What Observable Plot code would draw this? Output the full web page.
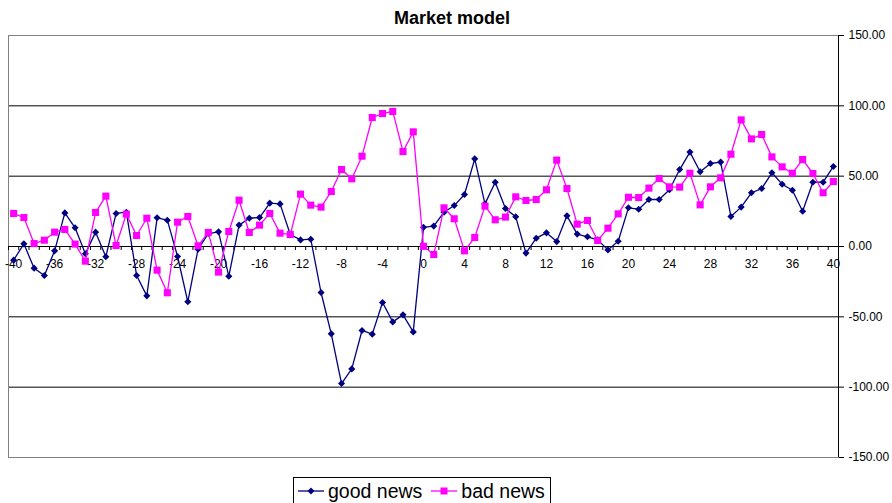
<!DOCTYPE html>
<html><head><meta charset="utf-8">
<script src="https://cdn.jsdelivr.net/npm/d3@7"></script>
<script src="https://cdn.jsdelivr.net/npm/@observablehq/plot@0.6"></script>
<style>
body{margin:0;background:#fff;font-family:"Liberation Sans",Arial,sans-serif;}
#wrap{position:relative;width:892px;height:503px;overflow:hidden;background:#fff;}
#title{position:absolute;left:6px;top:8px;width:892px;text-align:center;font-weight:bold;font-size:18px;line-height:20px;color:#000;}
#chart{position:absolute;left:0;top:0;}
#legend{position:absolute;left:293px;top:477px;width:258px;height:32px;border:1px solid #000;box-sizing:border-box;display:flex;align-items:center;font-size:19.5px;padding:0 0 4px 4px;color:#000;background:#fff;}
#legend svg{display:block;}
#legend span{white-space:nowrap;}
</style></head>
<body>
<div id="wrap">
  <div id="chart"></div>
  <div id="title">Market model</div>
  <div id="legend"></div>
</div>
<script>
const lags = [-40,-39,-38,-37,-36,-35,-34,-33,-32,-31,-30,-29,-28,-27,-26,-25,-24,-23,-22,-21,
  -20,-19,-18,-17,-16,-15,-14,-13,-12,-11,-10,-9,-8,-7,-6,-5,-4,-3,-2,-1,
  0,1,2,3,4,5,6,7,8,9,10,11,12,13,14,15,16,17,18,19,20,
  21,22,23,24,25,26,27,28,29,30,31,32,33,34,35,36,37,38,39,40];

const goodNews = [-9.7,1.9,-15.4,-20.6,-3.1,23.9,13.3,-5.2,10.2,-7.3,23.5,24.4,-20.6,-35.1,20.4,18.7,-7.1,-39.3,-1.9,9.2,
  10.4,-21.2,15.2,20.1,20.6,30.8,30.3,8.5,4.7,5.2,-32.7,-62.1,-97.4,-87.0,-59.7,-62.3,-39.8,-53.6,-48.6,-60.7,
  13.6,14.5,24.4,29.1,37.0,62.3,30.3,45.7,27.0,21.1,-4.7,5.9,9.7,3.5,21.8,8.8,6.9,4.7,-2.4,3.7,27.5,
  26.5,33.4,33.4,40.3,54.7,67.1,53.1,59.0,60.0,21.3,28.0,38.2,41.2,52.4,44.3,40.0,25.1,45.7,45.7,56.9];

const badNews = [23.5,20.6,2.1,4.5,10.2,12.1,1.7,-10.4,24.2,35.8,0.7,23.0,7.8,20.1,-16.8,-32.9,17.3,21.3,0.5,10.0,
  -18.2,10.7,32.9,10.0,15.2,23.5,9.5,8.5,37.2,29.4,28.0,39.1,54.7,48.1,64.2,91.7,94.5,96.0,67.5,81.5,
  0.1,-5.7,27.5,19.7,-3.1,6.4,28.7,19.0,20.9,35.3,32.7,33.4,40.3,61.4,41.2,15.9,18.5,4.3,13.0,23.2,35.0,
  34.8,41.5,48.3,42.4,42.2,52.1,29.6,42.4,48.8,65.6,90.0,76.5,79.6,63.7,56.6,52.1,61.8,51.9,38.2,46.2];

const xTickLabels = [-40,-36,-32,-28,-24,-20,-16,-12,-8,-4,0,4,8,12,16,20,24,28,32,36,40];
const yTicks = [-150,-100,-50,0,50,100,150];
const gridValues = [-100,-50,50,100];

const seriesNames = ["good news","bad news"];
const colors = {"good news":"#000080","bad news":"#ff00ff"};

const good = lags.map((x,i)=>({x, y: goodNews[i]}));
const bad = lags.map((x,i)=>({x, y: badNews[i]}));

const xDomain = [lags[0]-0.5, lags[lags.length-1]+0.5];
const tickBounds = lags.map(d=>d-0.5).concat([lags[lags.length-1]+0.5]);

const chart = Plot.plot({
  width: 892, height: 470,
  marginTop: 35, marginBottom: 13, marginLeft: 8, marginRight: 54,
  x: {domain: xDomain, axis: null},
  y: {domain: [-150,150], axis: null},
  style: {fontFamily: '"Liberation Sans", Arial, sans-serif', fontSize: "12px", color: "#000", background: "#fff", overflow: "visible"},
  marks: [
    Plot.ruleY(gridValues, {stroke: "#000", strokeWidth: 1}),
    Plot.frame({stroke: "#808080"}),
    Plot.ruleX([xDomain[1]], {stroke: "#000"}),
    Plot.axisY({anchor: "right", ticks: yTicks, tickFormat: d => d.toFixed(2), tickSize: 5, tickPadding: 5, fontSize: 12, stroke: "#000", label: null}),
    Plot.ruleY([0], {stroke: "#000"}),
    Plot.ruleX(tickBounds, {x: d => d, y1: 0, y2: 0, insetBottom: -4, stroke: "#000"}),
    Plot.text(xTickLabels, {x: d => d, y: 0, dy: 18, text: d => String(d), fontSize: 12, fill: "#000"}),
    Plot.line(good, {x: "x", y: "y", stroke: colors["good news"], strokeWidth: 1.3}),
    Plot.dot(good, {x: "x", y: "y", symbol: "diamond2", r: 3.2, fill: colors["good news"], stroke: null}),
    Plot.line(bad, {x: "x", y: "y", stroke: colors["bad news"], strokeWidth: 1.3}),
    Plot.dot(bad, {x: "x", y: "y", symbol: "square", r: 4, fill: colors["bad news"], stroke: null})
  ]
});
document.getElementById("chart").appendChild(chart);

// legend
const legend = document.getElementById("legend");
const ns = "http://www.w3.org/2000/svg";
seriesNames.forEach((name, i) => {
  const svg = document.createElementNS(ns, "svg");
  svg.setAttribute("width", 26); svg.setAttribute("height", 12);
  svg.style.marginLeft = i === 0 ? "0px" : "9px";
  svg.style.marginRight = "4px";
  const line = document.createElementNS(ns, "line");
  line.setAttribute("x1", 0); line.setAttribute("x2", 26);
  line.setAttribute("y1", 6); line.setAttribute("y2", 6);
  line.setAttribute("stroke", colors[name]); line.setAttribute("stroke-width", 1.3);
  svg.appendChild(line);
  const m = document.createElementNS(ns, "path");
  m.setAttribute("d", i === 0 ? "M13,2.5L16.5,6L13,9.5L9.5,6Z" : "M9.5,2.5H16.5V9.5H9.5Z");
  m.setAttribute("fill", colors[name]);
  svg.appendChild(m);
  legend.appendChild(svg);
  const t = document.createElement("span");
  t.textContent = name;
  legend.appendChild(t);
});
</script>
</body></html>
